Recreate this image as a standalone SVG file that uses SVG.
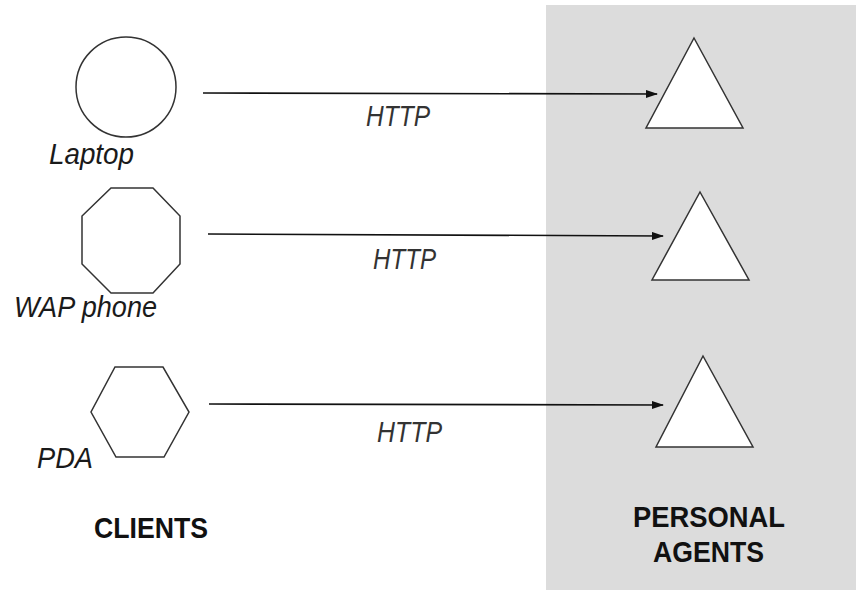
<svg xmlns="http://www.w3.org/2000/svg" width="856" height="590" viewBox="0 0 856 590">
  <defs>
    <marker id="arrow" markerWidth="12" markerHeight="8" refX="11" refY="4" orient="auto" markerUnits="userSpaceOnUse">
      <path d="M0,0 L12,4 L0,8 Z" fill="#111"/>
    </marker>
  </defs>
  <style>
    .shape { fill: #ffffff; stroke: #333333; stroke-width: 1.5; }
    .conn { stroke: #111111; stroke-width: 1.6; fill: none; }
    .lbl { font-family: "Liberation Sans", Arial, sans-serif; font-style: italic; font-size: 30px; fill: #1a1a1a; }
    .http { font-family: "Liberation Sans", Arial, sans-serif; font-style: italic; font-size: 29px; fill: #333333; }
    .head { font-family: "Liberation Sans", Arial, sans-serif; font-weight: bold; font-size: 30px; fill: #111111; }
  </style>
  <rect x="0" y="0" width="856" height="590" fill="#ffffff"/>
  <rect id="agents-area" x="546" y="5" width="310" height="585" fill="#dcdcdc"/>

  <g id="laptop">
    <circle class="shape" cx="126" cy="87" r="50"/>
    <text class="lbl" x="49" y="164" textLength="85" lengthAdjust="spacingAndGlyphs">Laptop</text>
  </g>
  <g id="wap-phone">
    <polygon class="shape" points="111,188 153,188 180,216 180,264 153,293 111,293 82,264 82,216"/>
    <text class="lbl" x="14" y="317" textLength="143" lengthAdjust="spacingAndGlyphs">WAP phone</text>
  </g>
  <g id="pda">
    <polygon class="shape" points="115,367 163,367 189,412 164,457 116,457 91,412"/>
    <text class="lbl" x="37" y="468" textLength="56" lengthAdjust="spacingAndGlyphs">PDA</text>
  </g>

  <g id="agent1">
    <polygon class="shape" points="694,38 743,128 646,128"/>
  </g>
  <g id="agent2">
    <polygon class="shape" points="700,192 749,280 652,280"/>
  </g>
  <g id="agent3">
    <polygon class="shape" points="703,356 753,447 656,447"/>
  </g>

  <g id="connectors">
    <line class="conn" x1="203" y1="93" x2="657" y2="94" marker-end="url(#arrow)"/>
    <line class="conn" x1="208" y1="234" x2="663" y2="236" marker-end="url(#arrow)"/>
    <line class="conn" x1="209" y1="404" x2="663" y2="405" marker-end="url(#arrow)"/>
    <text class="http" x="366" y="126" textLength="64" lengthAdjust="spacingAndGlyphs">HTTP</text>
    <text class="http" x="373" y="269" textLength="63" lengthAdjust="spacingAndGlyphs">HTTP</text>
    <text class="http" x="377" y="442" textLength="65" lengthAdjust="spacingAndGlyphs">HTTP</text>
  </g>

  <g id="titles">
    <text class="head" x="94" y="538" textLength="114" lengthAdjust="spacingAndGlyphs">CLIENTS</text>
    <text class="head" x="633" y="527" textLength="152" lengthAdjust="spacingAndGlyphs">PERSONAL</text>
    <text class="head" x="653" y="562" textLength="111" lengthAdjust="spacingAndGlyphs">AGENTS</text>
  </g>
</svg>
